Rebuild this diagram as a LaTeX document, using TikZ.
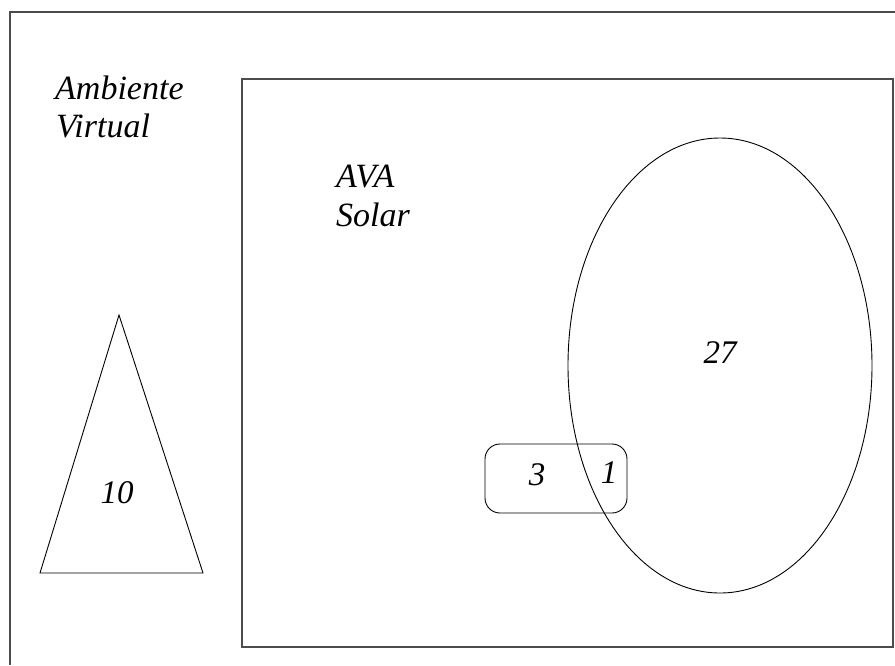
\documentclass[tikz,border=0pt]{standalone}
\usepackage{fontspec}
\setmainfont{Liberation Serif}[ItalicFont={Liberation Serif Italic}]
\usetikzlibrary{shapes.geometric}
\begin{document}
\begin{tikzpicture}[x=1pt,y=-1pt,
  frame/.style={draw=black!70,line width=1.3pt},
  thin/.style={draw=black,line width=0.9pt},
  lbl/.style={inner sep=0pt,anchor=base west,font=\fontsize{34}{38}\selectfont\itshape},
  num/.style={inner sep=0pt,anchor=base,font=\fontsize{33}{38}\selectfont\itshape}]
\path[use as bounding box] (0,0) rectangle (895,665);
\fill[white] (0,0) rectangle (895,665);
% outer frame (clipped by page)
\coordinate (o1) at (10,665);
\coordinate (o2) at (10,12);
\coordinate (o3) at (895,12);
\draw[frame] (o1) -- (o2) -- (o3);
% inner frame
\node[frame,rectangle,minimum width=651pt,minimum height=568pt,inner sep=0pt] (ava) at (567.5,363) {};
% labels
\node[lbl] (amb) at (55,99) {Ambiente};
\node[lbl] (virt) at (56,137) {Virtual};
\node[lbl] (avat) at (336,187) {AVA};
\node[lbl] (solt) at (336,226) {Solar};
% triangle
\coordinate (ta) at (119,315);
\coordinate (tl) at (40,573);
\coordinate (tr) at (203,573);
\draw[thin] (ta) -- (tl) -- (tr) -- cycle;
\node[num] (n10) at (117,503) {10};
% ellipse
\node[thin,ellipse,minimum width=304pt,minimum height=455pt,inner sep=0pt] (ell) at (720,365.5) {};
\node[num] (n27) at (720,363) {27};
% rounded rect
\node[thin,rectangle,rounded corners=15pt,minimum width=142pt,minimum height=69pt,inner sep=0pt] (rr) at (556,478.5) {};
\node[num] (n3) at (537,485) {3};
\node[num] (n1) at (609,483) {1};
\end{tikzpicture}
\end{document}
